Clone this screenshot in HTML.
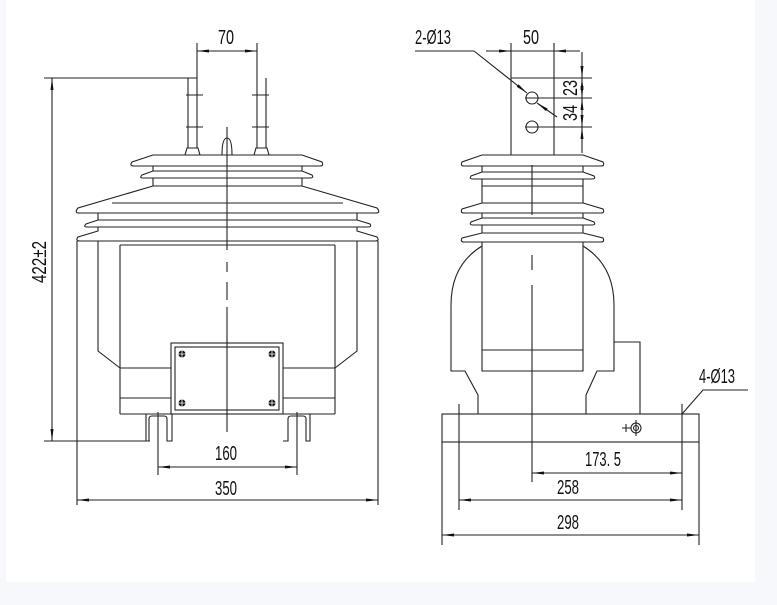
<!DOCTYPE html>
<html><head><style>
html,body{margin:0;padding:0;background:#f7f8fc;}
svg{display:block;}
text{font-family:"Liberation Sans",sans-serif;font-size:20px;fill:#111;}
</style></head><body>
<svg width="777" height="605" viewBox="0 0 777 605" xmlns="http://www.w3.org/2000/svg">
<defs>
<marker id="a" markerWidth="12" markerHeight="4" refX="12" refY="2" orient="auto-start-reverse" markerUnits="userSpaceOnUse"><path d="M0,0.5 L12,2 L0,3.5Z" fill="#111"/></marker>
</defs>
<rect x="6" y="0" width="749" height="582" fill="#fff"/>
<g stroke="#222" stroke-width="1.1" fill="none">
<line x1="197" y1="43" x2="197" y2="78"/><line x1="257" y1="43" x2="257" y2="78"/>
<line x1="197" y1="51" x2="257" y2="51" marker-start="url(#a)" marker-end="url(#a)"/>
<line x1="44" y1="78" x2="197" y2="78"/>
<line x1="44" y1="441" x2="150" y2="441"/>
<line x1="52" y1="78" x2="52" y2="441" marker-start="url(#a)" marker-end="url(#a)"/>
<path d="M188,78 V148 M197,78 V148 M257,78 V148 M266,78 V148"/>
<path d="M186,95 H203 M186,127 H203 M252,95 H269 M252,127 H269"/>
<path d="M185,155 L187,148 H198 L200,155 M254,155 L256,148 H267 L269,155"/>
<path d="M222,155 C222,142 224,138 227,138 C230,138 232,142 232,155"/>
<path d="M153,155 H302 L322,162 Q324,166 320,166 H134 Q129,166 132,162 Z"/>
<path d="M153,166 V171 M302,166 V171"/>
<path d="M153,171 H302 L312,175 Q314,178 310,178 H143 Q139,178 142,175 Z"/>
<path d="M153,178 V186 M302,178 V186"/>
<path d="M153,186 H302 L377,208 Q381,213 376,213 H79 Q74,213 78,208 Z"/>
<line x1="112" y1="203" x2="343" y2="203"/>
<path d="M98,213 V220 M357,213 V220"/>
<path d="M98,220 H357 L370,224 Q372,227 368,227 H87 Q83,227 86,224 Z"/>
<path d="M98,227 L98,231 L78,237 Q75,241 80,241 H375 Q380,241 377,237 L357,231 V227"/>
<path d="M77,241 V505 M378,241 V505"/>
<path d="M98,241 V351 L120,368 M357,241 V351 L335,368"/>
<path d="M120,245 H335 M120,245 V414 M335,245 V414"/>
<path d="M120,368 H171 M283,368 H335 M120,398 H171 M283,398 H335 M120,414 H335"/>
<rect x="171" y="343" width="112" height="71"/>
<rect x="175" y="347" width="104" height="63"/>
<path d="M146,441 H149 V419 Q149,416 152,416 H164 Q167,416 167,419 V441 H172 V414 M146,441 V414"/>
<path d="M283,441 H288 V419 Q288,416 291,416 H303 Q306,416 306,419 V441 H310 V414"/>
<line x1="158" y1="412" x2="158" y2="475"/><line x1="297" y1="412" x2="297" y2="475"/>
<line x1="158" y1="467" x2="297" y2="467" marker-start="url(#a)" marker-end="url(#a)"/>
<line x1="77" y1="500" x2="378" y2="500" marker-start="url(#a)" marker-end="url(#a)"/>
<path d="M227,127 V250 M227,262 V272 M227,282 V300 M227,307 V432"/>
<line x1="415" y1="51" x2="474" y2="51"/>
<line x1="474" y1="51" x2="527" y2="93" marker-end="url(#a)"/>
<line x1="537" y1="103" x2="557" y2="117" marker-start="url(#a)"/>
<line x1="511" y1="43" x2="511" y2="155"/><line x1="554" y1="43" x2="554" y2="155"/>
<line x1="486" y1="51" x2="511" y2="51" marker-end="url(#a)"/>
<line x1="580" y1="51" x2="554" y2="51" marker-end="url(#a)"/>
<line x1="511" y1="51" x2="554" y2="51"/>
<path d="M511,78 H592 M525,98 H592 M525,127 H592"/>
<line x1="582" y1="52" x2="582" y2="78" marker-end="url(#a)"/>
<line x1="582" y1="78" x2="582" y2="98" marker-start="url(#a)" marker-end="url(#a)"/>
<line x1="582" y1="98" x2="582" y2="127" marker-start="url(#a)" marker-end="url(#a)"/>
<line x1="582" y1="153" x2="582" y2="127" marker-end="url(#a)"/>
<circle cx="532" cy="98" r="6"/><circle cx="532" cy="127" r="6"/>
<path d="M482,155 H583 L603,162 Q605,166 601,166 H464 Q460,166 462,162 Z"/>
<path d="M482,166 V172 M583,166 V172"/>
<path d="M482,172 H583 L594,176 Q596,179 592,179 H473 Q469,179 471,176 Z"/>
<path d="M482,179 V203 M583,179 V203 M482,186 H583"/>
<path d="M482,203 H583 L603,209 Q605,213 601,213 H464 Q460,213 462,209 Z"/>
<path d="M482,213 V218 M583,213 V218"/>
<path d="M482,218 H583 L594,222 Q596,225 592,225 H473 Q469,225 471,222 Z"/>
<path d="M482,225 V233 M583,225 V233"/>
<path d="M482,233 H583 L603,238 Q605,242 601,242 H464 Q460,242 462,238 Z"/>
<path d="M482,242 V371 H583 V242 M482,350 H583"/>
<path d="M482,246 Q451,265 451,305 V371 H465 L478,395 V414 M583,246 Q614,265 614,305 V371 H597 L586,395 V414"/>
<path d="M614,342 H640 V414"/>
<rect x="442" y="414" width="257" height="28"/>
<path d="M459,404 V510 M682,404 V510 M442,442 V545 M699,442 V545"/>
<path d="M682,414 L703,390 H748"/>
<circle cx="636" cy="428" r="5"/><circle cx="636" cy="428" r="2.5"/>
<path d="M636,420 V436 M622,428 H631 M626,424 V432"/>
<path d="M532,165 V215 M532,255 V270 M532,285 V482"/>
<line x1="532" y1="473" x2="682" y2="473" marker-start="url(#a)" marker-end="url(#a)"/>
<line x1="459" y1="500" x2="682" y2="500" marker-start="url(#a)" marker-end="url(#a)"/>
<line x1="442" y1="535" x2="699" y2="535" marker-start="url(#a)" marker-end="url(#a)"/>
</g>
<g fill="#111">
<circle cx="182" cy="354" r="3.5"/><circle cx="272" cy="354" r="3.5"/>
<circle cx="182" cy="403" r="3.5"/><circle cx="272" cy="403" r="3.5"/>
</g>
<g stroke="#fff" stroke-width="0.8">
<path d="M182,350 V358 M178,354 H186 M272,350 V358 M268,354 H276 M182,399 V407 M178,403 H186 M272,399 V407 M268,403 H276"/>
</g>
<text x="226" y="44" text-anchor="middle" textLength="16" lengthAdjust="spacingAndGlyphs">70</text>
<text x="226" y="460" text-anchor="middle" textLength="22" lengthAdjust="spacingAndGlyphs">160</text>
<text x="226" y="495" text-anchor="middle" textLength="22" lengthAdjust="spacingAndGlyphs">350</text>
<text transform="translate(46,262) rotate(-90)" text-anchor="middle" textLength="42" lengthAdjust="spacingAndGlyphs">422±2</text>
<text x="433" y="44" text-anchor="middle" textLength="36" lengthAdjust="spacingAndGlyphs">2-Ø13</text>
<text x="531" y="44" text-anchor="middle" textLength="16" lengthAdjust="spacingAndGlyphs">50</text>
<text transform="translate(577,88) rotate(-90)" text-anchor="middle" textLength="16" lengthAdjust="spacingAndGlyphs">23</text>
<text transform="translate(577,113) rotate(-90)" text-anchor="middle" textLength="16" lengthAdjust="spacingAndGlyphs">34</text>
<text x="717" y="383" text-anchor="middle" textLength="36" lengthAdjust="spacingAndGlyphs">4-Ø13</text>
<text x="603" y="466" text-anchor="middle" textLength="36" lengthAdjust="spacingAndGlyphs">173. 5</text>
<text x="568" y="494" text-anchor="middle" textLength="22" lengthAdjust="spacingAndGlyphs">258</text>
<text x="568" y="529" text-anchor="middle" textLength="22" lengthAdjust="spacingAndGlyphs">298</text>
</svg>
</body></html>
